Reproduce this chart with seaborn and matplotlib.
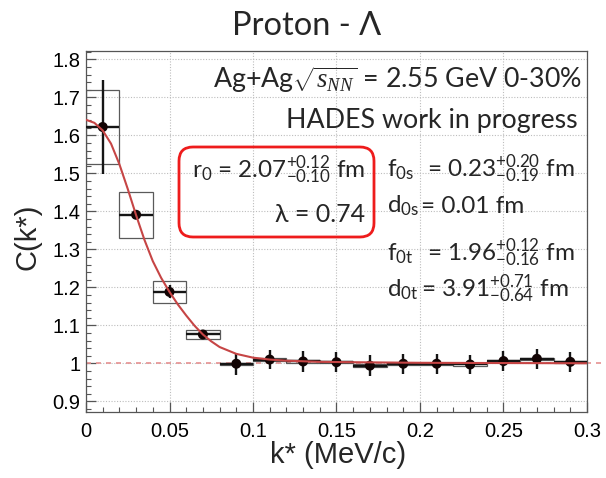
import matplotlib
matplotlib.use("Agg")
import matplotlib.pyplot as plt
import seaborn as sns
import numpy as np
import pandas as pd
from matplotlib.patches import Rectangle, FancyBboxPatch
from matplotlib.transforms import IdentityTransform
from matplotlib.ticker import MultipleLocator

# ---------------- data ----------------
k_centers = [0.01, 0.03, 0.05, 0.07, 0.09, 0.11, 0.13, 0.15, 0.17, 0.19,
             0.21, 0.23, 0.25, 0.27, 0.29]
c_values = [1.622, 1.391, 1.188, 1.076, 0.999, 1.010, 1.005, 1.003, 0.994,
            0.999, 0.999, 0.997, 1.006, 1.012, 1.004]
stat_err = [0.123, 0.010, 0.017, 0.013, 0.029, 0.026, 0.027, 0.026, 0.028,
            0.026, 0.026, 0.026, 0.027, 0.026, 0.026]
sys_err = [0.097, 0.060, 0.029, 0.012, 0.003, 0.003, 0.003, 0.003, 0.003,
           0.003, 0.003, 0.003, 0.003, 0.003, 0.003]
bin_half_width = 0.01

fit_k = [0.0, 0.005, 0.01, 0.015, 0.02, 0.025, 0.03, 0.035, 0.04, 0.045,
         0.05, 0.055, 0.06, 0.065, 0.07, 0.075, 0.08, 0.09, 0.10, 0.11,
         0.12, 0.14, 0.16, 0.20, 0.25, 0.30]
fit_c = [1.641, 1.633, 1.613, 1.578, 1.524, 1.459, 1.390, 1.325, 1.269, 1.225,
         1.188, 1.155, 1.126, 1.099, 1.076, 1.058, 1.043, 1.025, 1.015, 1.010,
         1.007, 1.004, 1.003, 1.0015, 1.0008, 1.0003]

baseline_value = 1.0

x_ticks = [0.0, 0.05, 0.10, 0.15, 0.20, 0.25, 0.30]
x_tick_labels = ["0", "0.05", "0.1", "0.15", "0.2", "0.25", "0.3"]
y_ticks = [0.9, 1.0, 1.1, 1.2, 1.3, 1.4, 1.5, 1.6, 1.7, 1.8]
y_tick_labels = ["0.9", "1", "1.1", "1.2", "1.3", "1.4", "1.5", "1.6", "1.7", "1.8"]

title = "Proton - Λ"
x_label = "k* (MeV/c)"
y_label = "C(k*)"
ann_system = r"Ag+Ag$\sqrt{s_{NN}}$ = 2.55 GeV 0-30%"
ann_hades = "HADES work in progress"
ann_r0 = r"r$_0$ = 2.07$^{+0.12}_{-0.10}$ fm"
ann_lambda = "λ = 0.74"
param_labels = [r"f$_{\mathrm{0s}}$", r"d$_{\mathrm{0s}}$", r"f$_{\mathrm{0t}}$", r"d$_{\mathrm{0t}}$"]
param_values = [r"= 0.23$^{+0.20}_{-0.19}$ fm", "= 0.01 fm",
                r"= 1.96$^{+0.12}_{-0.16}$ fm", r"= 3.91$^{+0.71}_{-0.64}$ fm"]

# ---------------- style ----------------
sns.set_style("ticks")
ANN_FONT = ["Lato", "DejaVu Sans"]
plt.rcParams.update({
    "font.family": ["Liberation Sans", "DejaVu Sans"],
    "mathtext.fontset": "custom",
    "mathtext.rm": "Lato",
    "mathtext.it": "Liberation Serif:italic",
    "mathtext.bf": "Lato:bold",
    "mathtext.sf": "Lato",
})

W, H = 606, 478
fig = plt.figure(figsize=(W / 100, H / 100), dpi=100)
ax_left, ax_right, ax_top, ax_bottom = 86, 587, 51, 412
ax = fig.add_axes([ax_left / W, 1 - ax_bottom / H,
                   (ax_right - ax_left) / W, (ax_bottom - ax_top) / H])

ax.set_xlim(0.0, 0.3)
ax.set_ylim(0.872, 1.822)

# grid
ax.grid(True, which="major", ls=(0, (1, 1.5)), color="#bdbdbd", lw=0.8, zorder=0)
ax.set_axisbelow(True)

# reference line at 1, extending past the frame
ax.axhline(baseline_value, xmin=0, xmax=1.04, color="#e59191",
           ls=(0, (3, 3)), lw=1.2, clip_on=False, zorder=1)

# systematic boxes
for k, c, s in zip(k_centers, c_values, sys_err):
    ax.add_patch(Rectangle((k - bin_half_width, c - s), 2 * bin_half_width, 2 * s,
                           fill=False, ec="#5a5a5a", lw=0.9, zorder=2))

# statistical error bars
ax.errorbar(k_centers, c_values, yerr=stat_err, xerr=bin_half_width, fmt="none",
            ecolor="#151515", elinewidth=1.7, capsize=0, zorder=3)

df = pd.DataFrame({"k": k_centers, "C": c_values})
sns.scatterplot(data=df, x="k", y="C", color="#120404", s=52, edgecolor="none",
                zorder=4, ax=ax, legend=False)

fit_df = pd.DataFrame({"k": fit_k, "C": fit_c})
sns.lineplot(data=fit_df, x="k", y="C", color="#c64545", lw=1.5, zorder=5,
             ax=ax, legend=False)

# ticks
ax.set_xticks(x_ticks)
ax.set_xticklabels(x_tick_labels)
ax.set_yticks(y_ticks)
ax.set_yticklabels(y_tick_labels)
ax.xaxis.set_minor_locator(MultipleLocator(0.01))
ax.yaxis.set_minor_locator(MultipleLocator(0.02))
ax.tick_params(which="both", direction="in", top=False, right=False,
               colors="#555555", labelcolor="black", labelsize=14.5)
ax.tick_params(which="major", length=7, width=0.9)
ax.tick_params(which="minor", length=3.8, width=0.8)
ax.tick_params(axis="x", which="major", pad=7)
ax.tick_params(axis="y", which="major", pad=4)
for sp in ax.spines.values():
    sp.set_color("#555555")
    sp.set_linewidth(0.9)

ax.set_xlabel(x_label, fontsize=21)
ax.set_ylabel(y_label, fontsize=21)
ax.xaxis.label.set_va("center")
ax.yaxis.label.set_va("center")
ax.xaxis.set_label_coords((338 - ax_left) / (ax_right - ax_left),
                          (ax_bottom - 455) / (ax_bottom - ax_top))
ax.yaxis.set_label_coords((27 - ax_left) / (ax_right - ax_left),
                          (ax_bottom - 237) / (ax_bottom - ax_top))


def ftext(x, y, s, **kw):
    return fig.text(x / W, 1 - y / H, s, **kw)


ftext(307, 26, title, ha="center", va="center", fontsize=23.5, family=ANN_FONT)

ANN_SIZE = 17.5
TOP_SIZE = 19.3
ftext(582, 88, ann_system, ha="right", va="baseline", fontsize=TOP_SIZE, family=ANN_FONT)
ftext(578, 128, ann_hades, ha="right", va="baseline", fontsize=TOP_SIZE, family=ANN_FONT)
ftext(365, 178, ann_r0, ha="right", va="baseline", fontsize=ANN_SIZE, family=ANN_FONT)
ftext(365, 222, ann_lambda, ha="right", va="baseline", fontsize=ANN_SIZE + 0.5, family=ANN_FONT)

label_x = 387
value_x = [427, 421, 427, 421]
baselines = [177, 213, 261, 297]
for lab, val, vx, yb in zip(param_labels, param_values, value_x, baselines):
    ftext(label_x, yb, lab, ha="left", va="baseline", fontsize=ANN_SIZE, family=ANN_FONT)
    ftext(vx, yb, val, ha="left", va="baseline", fontsize=ANN_SIZE, family=ANN_FONT)

# red rounded box
box = FancyBboxPatch((179, H - 237), 195, 90,
                     boxstyle="round,pad=0,rounding_size=14",
                     transform=IdentityTransform(), fc="none", ec="#ee1c1c", lw=2.0)
fig.add_artist(box)

fig.savefig("out.png", dpi=100)
